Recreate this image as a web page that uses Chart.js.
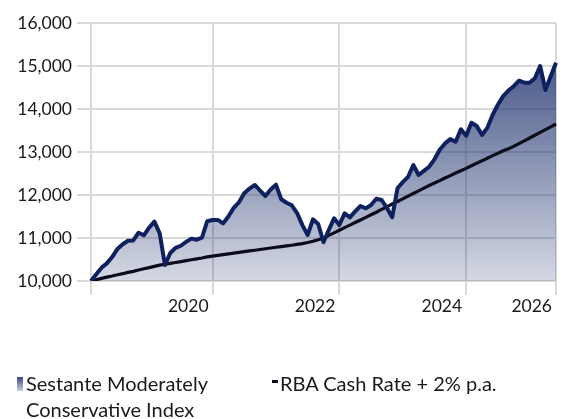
<!DOCTYPE html>
<html>
<head>
<meta charset="utf-8">
<script src="https://cdn.jsdelivr.net/npm/chart.js@4.4.1/dist/chart.umd.min.js"></script>
<style>
  html,body{margin:0;padding:0;background:#fff;}
  #wrap{position:relative;width:567px;height:419px;overflow:hidden;}
  canvas{position:absolute;left:0;top:0;}
  .leg{position:absolute;font-family:Lato,"Open Sans",sans-serif;font-size:20px;line-height:26px;color:#1a1a1a;white-space:normal;}
  .sw{position:absolute;}
</style>
</head>
<body>
<div id="wrap">
  <canvas id="c" width="567" height="419"></canvas>
  <div id="legend"></div>
</div>
<script>
// ---- data ----
const startYear = 2018, startMonth = 2, monthCount = 89;   // Feb 2018 .. Jun 2025, monthly
const indexName = "Sestante Moderately Conservative Index";
const rbaName = "RBA Cash Rate + 2% p.a.";
const indexValues = [
  10000,10155,10310,10410,10557,10746,10855,10935,10942,11123,
  11063,11240,11380,11109,10372,10650,10770,10820,10910,10985,
  10960,11010,11390,11420,11420,11340,11500,11700,11830,12040,
  12150,12233,12100,11977,12130,12240,11900,11820,11760,11580,
  11300,11070,11435,11326,10900,11186,11458,11302,11574,11481,
  11620,11744,11690,11767,11914,11884,11700,11481,12156,12300,
  12420,12698,12465,12560,12658,12830,13050,13200,13300,13240,
  13528,13380,13681,13605,13395,13560,13860,14100,14300,14430,
  14530,14658,14612,14612,14714,15000,14442,14760,15077
];
const rbaValues = [
  10000,10030,10060,10090,10115,10145,10170,10200,10225,10255,
  10285,10310,10340,10370,10390,10410,10430,10450,10475,10495,
  10515,10535,10560,10580,10597,10614,10631,10648,10665,10682,
  10699,10716,10733,10750,10767,10784,10800,10815,10832,10850,
  10870,10895,10925,10960,11000,11060,11120,11180,11240,11300,
  11360,11420,11480,11540,11600,11665,11725,11790,11850,11910,
  11975,12035,12095,12160,12220,12280,12335,12395,12450,12510,
  12565,12620,12680,12740,12795,12855,12915,12970,13030,13075,
  13130,13195,13260,13325,13390,13455,13520,13585,13651
];
const xTickAt = ["2018-02","2020-01","2022-01","2024-01","2025-06"];
const xTickLabels = ["","2020","2022","2024","2026"];
const yMin = 10000, yMax = 16000, yStep = 1000;

// month category labels
const months = [];
for (let i = 0; i < monthCount; i++) {
  const m = startMonth - 1 + i;
  const y = startYear + Math.floor(m / 12);
  const mm = (m % 12) + 1;
  months.push(y + "-" + String(mm).padStart(2, "0"));
}

const FONT = "Lato";
const gridColor = "#d9d9d9";

function fillGradient(ctx) {
  const chart = ctx.chart;
  const a = chart.chartArea;
  if (!a) return "rgba(31,50,110,0.5)";
  const g = chart.ctx.createLinearGradient(0, a.top, 0, a.bottom);
  g.addColorStop(0, "rgba(31,50,110,0.92)");
  g.addColorStop(1, "rgba(31,50,110,0.19)");
  return g;
}

const chart = new Chart(document.getElementById("c"), {
  type: "line",
  data: {
    labels: months,
    datasets: [
      {
        label: indexName,
        data: indexValues,
        borderColor: "#0e215e",
        borderWidth: 4,
        backgroundColor: fillGradient,
        fill: "start",
        pointRadius: 0,
        tension: 0,
        borderJoinStyle: "round"
      },
      {
        label: rbaName,
        data: rbaValues,
        borderColor: "#0b0b1c",
        borderWidth: 3.2,
        fill: false,
        pointRadius: 0,
        tension: 0
      }
    ]
  },
  options: {
    responsive: false,
    animation: false,
    devicePixelRatio: 1,
    layout: { padding: { left: 0, right: 11, top: 23, bottom: 98 } },
    plugins: {
      legend: { display: false },
      tooltip: { enabled: false },
      filler: { drawTime: "beforeDatasetsDraw" }
    },
    scales: {
      x: {
        type: "category",
        offset: false,
        afterBuildTicks: (s) => {
          s.ticks = xTickAt.map(l => ({ value: months.indexOf(l) }));
        },
        afterFit: (s) => { s.height = 40; },
        grid: { color: gridColor, lineWidth: 2, tickLength: 14, drawTicks: true },
        border: { color: gridColor, width: 2 },
        ticks: {
          autoSkip: false,
          maxRotation: 0,
          minRotation: 0,
          align: "end",
          labelOffset: -4,
          padding: 1,
          color: "#1a1a1a",
          font: { family: FONT, size: 17.5 },
          callback: (v, i) => xTickLabels[i]
        }
      },
      y: {
        min: yMin,
        max: yMax,
        afterFit: (s) => { s.width = 91; },
        grid: { color: gridColor, lineWidth: 2, tickLength: 14 },
        border: { color: gridColor, width: 2 },
        ticks: {
          stepSize: yStep,
          padding: 5,
          color: "#1a1a1a",
          font: { family: FONT, size: 17.5 },
          callback: (v) => Number(v).toLocaleString("en-US")
        }
      }
    }
  }
});

// HTML legend built from datasets
const legend = document.getElementById("legend");
const items = [
  { ds: 0, left: 26, width: 190, sw: { left: 17, top: 377, w: 6, h: 14, bg: "linear-gradient(#3a4a80,#c9cde0)" } },
  { ds: 1, left: 280, width: 260, sw: { left: 272, top: 380, w: 6, h: 3, bg: "#0b0b1c" } }
];
items.forEach(it => {
  const s = document.createElement("div");
  s.className = "sw";
  s.style.cssText = `left:${it.sw.left}px;top:${it.sw.top}px;width:${it.sw.w}px;height:${it.sw.h}px;background:${it.sw.bg};`;
  legend.appendChild(s);
  const t = document.createElement("div");
  t.className = "leg";
  t.style.left = it.left + "px";
  t.style.top = "370px";
  t.style.width = it.width + "px";
  t.textContent = chart.data.datasets[it.ds].label;
  legend.appendChild(t);
});
</script>
</body>
</html>
